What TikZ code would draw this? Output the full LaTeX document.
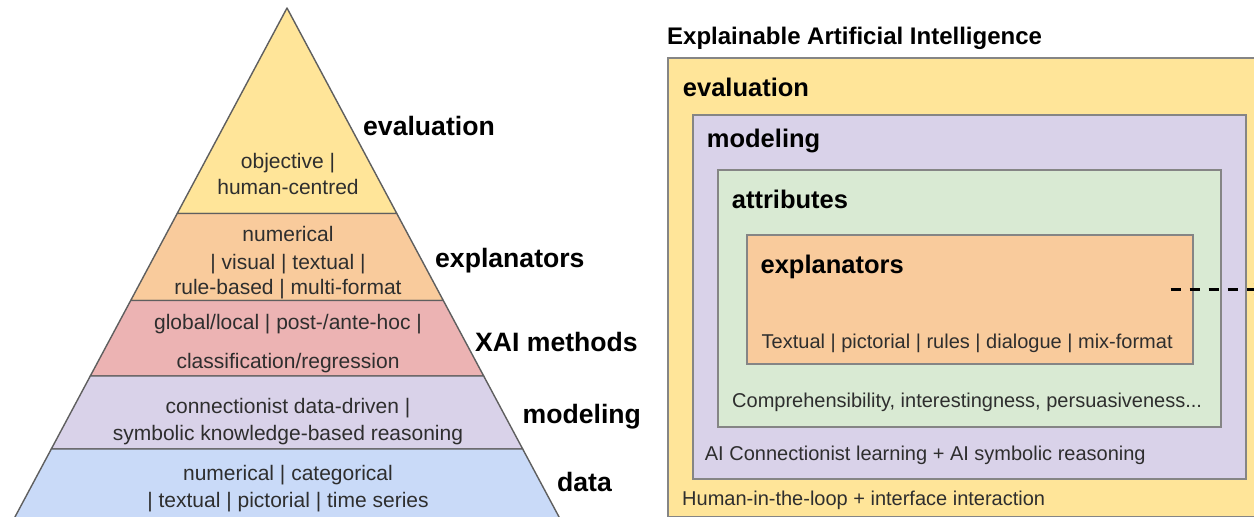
\documentclass[tikz,border=0pt]{standalone}
\usepackage{fontspec}
\setmainfont{Liberation Sans}
\usetikzlibrary{arrows.meta}

\definecolor{evalc}{HTML}{FFE599}
\definecolor{explc}{HTML}{F9CB9C}
\definecolor{xaic}{HTML}{ECB3B3}
\definecolor{modc}{HTML}{D9D2E9}
\definecolor{datac}{HTML}{C9DAF8}
\definecolor{attrc}{HTML}{D9EAD3}
\definecolor{edgec}{HTML}{5F5F5F}
\definecolor{boxc}{HTML}{858585}
\definecolor{inkc}{HTML}{2E2E2E}

\begin{document}
\begin{tikzpicture}[x=1pt,y=-1pt,
  band/.style={draw=edgec,line width=1.4pt,line join=round},
  ptext/.style={font=\fontsize{21}{25}\selectfont,text=inkc,inner sep=0pt,anchor=base},
  plabel/.style={font=\fontsize{26.6}{30}\selectfont\bfseries,text=black,inner sep=0pt,anchor=base west},
  layerbox/.style={draw=boxc,line width=2pt},
  blabel/.style={font=\fontsize{25.5}{30}\selectfont\bfseries,text=black,inner sep=0pt,anchor=base west},
  btext/.style={font=\fontsize{20}{24}\selectfont,text=inkc,inner sep=0pt,anchor=base west},
  link/.style={line width=3pt,dash pattern=on 10pt off 9pt,-{Stealth[length=12pt,width=11pt]}},
]
\useasboundingbox (0,0) rectangle (1254,517);
\clip (0,0) rectangle (1254,517);
\fill[white] (0,0) rectangle (1254,517);

% ---------- pyramid of layers ----------
\coordinate (apex) at (287,8);
\coordinate (l1) at (177.2,213.5); \coordinate (r1) at (396.8,213.5);
\coordinate (l2) at (130.7,300.5); \coordinate (r2) at (443.3,300.5);
\coordinate (l3) at (90.3,376);    \coordinate (r3) at (483.7,376);
\coordinate (l4) at (51.3,449);    \coordinate (r4) at (522.7,449);
\coordinate (l5) at (8,530);       \coordinate (r5) at (566,530);

\filldraw[band,fill=evalc] (apex) -- (r1) -- (l1) -- cycle;
\filldraw[band,fill=explc] (l1) -- (r1) -- (r2) -- (l2) -- cycle;
\filldraw[band,fill=xaic]  (l2) -- (r2) -- (r3) -- (l3) -- cycle;
\filldraw[band,fill=modc]  (l3) -- (r3) -- (r4) -- (l4) -- cycle;
\filldraw[band,fill=datac] (l4) -- (r4) -- (r5) -- (l5) -- cycle;

\node[ptext] (ev1) at (288,168)   {objective |};
\node[ptext] (ev2) at (288,194.5) {human-centred};
\node[ptext] (ex1) at (288,241.5) {numerical};
\node[ptext] (ex2) at (288,269.5) {| visual | textual |};
\node[ptext] (ex3) at (288,294.5) {rule-based | multi-format};
\node[ptext] (xm1) at (288,329.5) {global/local | post-/ante-hoc |};
\node[ptext] (xm2) at (288,368)   {classification/regression};
\node[ptext] (md1) at (288,413.5) {connectionist data-driven |};
\node[ptext] (md2) at (288,440.5) {symbolic knowledge-based reasoning};
\node[ptext] (dt1) at (288,480.5) {numerical | categorical};
\node[ptext] (dt2) at (288,507.5) {| textual | pictorial | time series};

\node[plabel] (pev) at (363,135)   {evaluation};
\node[plabel] (pex) at (435,267)   {explanators};
\node[plabel] (pxm) at (475,351.5) {XAI methods};
\node[plabel] (pmd) at (522.5,423) {modeling};
\node[plabel] (pdt) at (557,491.5) {data};

% ---------- nested layers ----------
\node[font=\fontsize{24}{28}\selectfont\bfseries,inner sep=0pt,anchor=base west] (title) at (667,44.3) {Explainable Artificial Intelligence};

\filldraw[layerbox,fill=evalc] (668.3,58.3) rectangle (1300,516.5);
\filldraw[layerbox,fill=modc]  (692.7,115)  rectangle (1246.4,479);
\filldraw[layerbox,fill=attrc] (718.3,170)  rectangle (1220.6,426.7);
\filldraw[layerbox,fill=explc] (747,235)    rectangle (1193,364.3);

\node[blabel] (bev) at (682.7,96)   {evaluation};
\node[blabel] (bmd) at (706.7,147.7) {modeling};
\node[blabel] (bat) at (731.7,208)  {attributes};
\node[blabel] (bex) at (760.4,273.3) {explanators};

\node[btext] (tex) at (761.5,348.3) {Textual | pictorial | rules | dialogue | mix-format};
\node[btext] (tat) at (732,407.7)   {Comprehensibility, interestingness, persuasiveness...};
\node[btext] (tmd) at (704.7,460)   {AI Connectionist learning + AI symbolic reasoning};
\node[btext] (tev) at (682,505)     {Human-in-the-loop + interface interaction};

\coordinate (dstart) at (1170.5,289);
\coordinate (dend) at (1266,289);
\draw[link] (dstart) -- (dend);
\end{tikzpicture}
\end{document}
